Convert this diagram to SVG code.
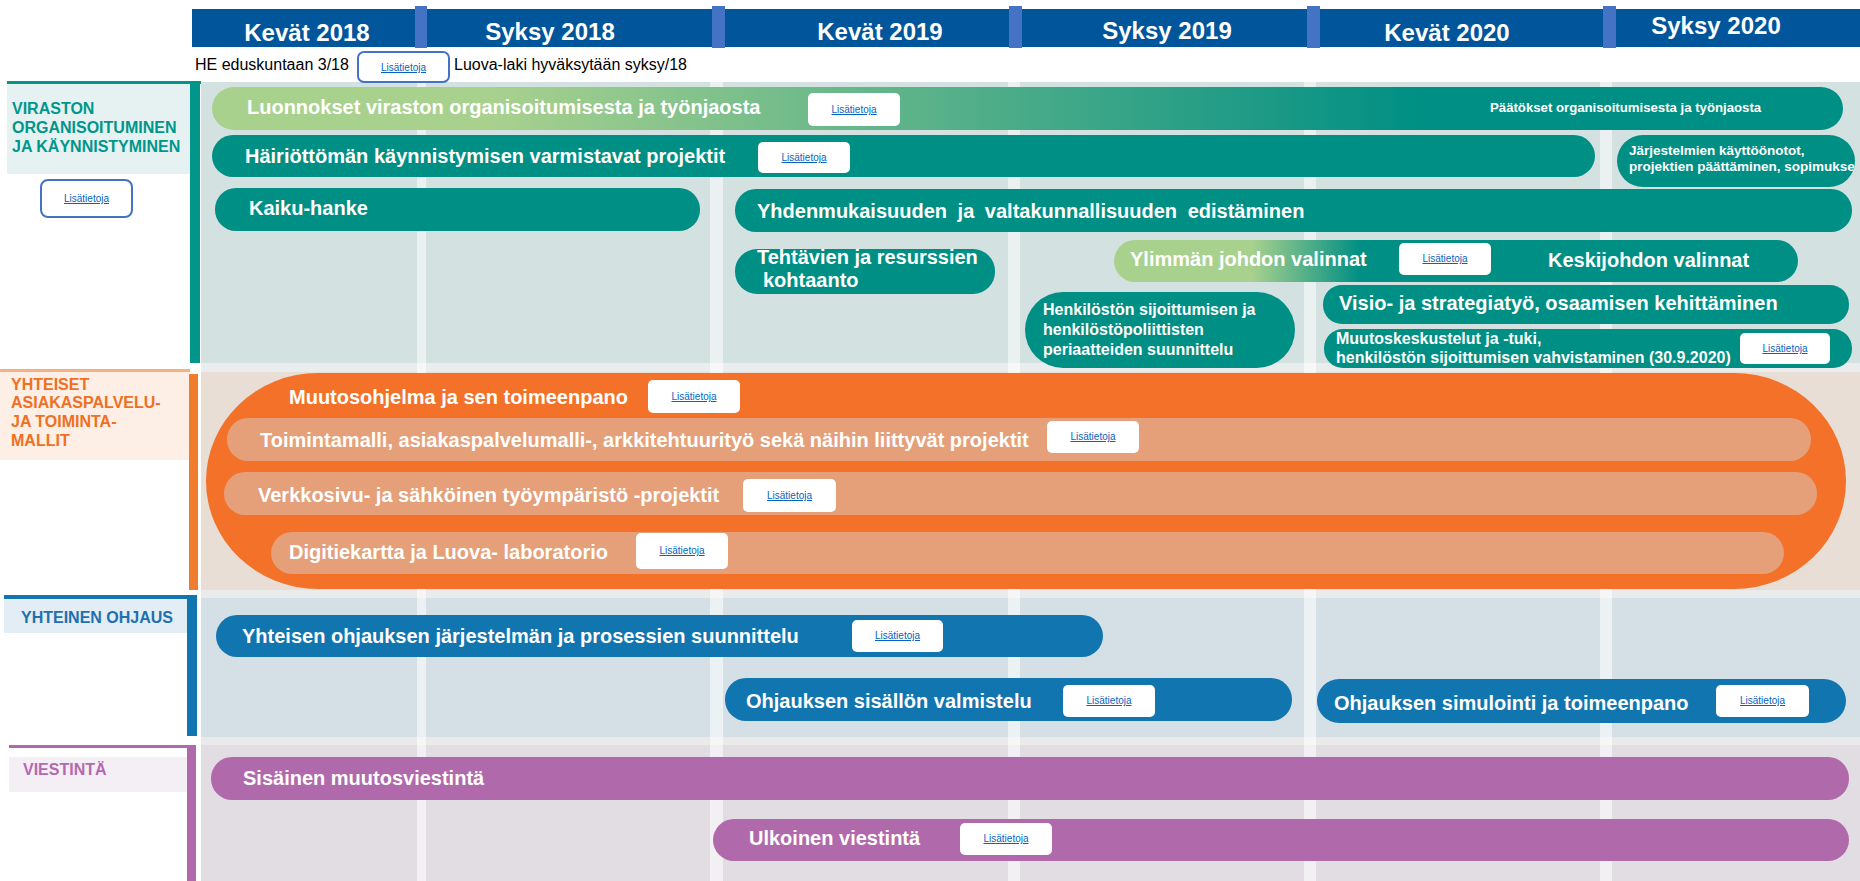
<svg xmlns="http://www.w3.org/2000/svg" width="1860" height="881" viewBox="0 0 1860 881">
<defs>
<style>
.hdr{font-family:"Liberation Sans",Arial,sans-serif;font-weight:bold;font-size:24px;fill:#fff;text-anchor:middle}
.t{font-family:"Liberation Sans",Arial,sans-serif;font-weight:bold;font-size:20px;fill:#fff}
.s{font-family:"Liberation Sans",Arial,sans-serif;font-weight:bold;fill:#fff}
.lbl{font-family:"Liberation Sans",Arial,sans-serif;font-weight:bold;font-size:16px}
.note{font-family:"Liberation Sans",Arial,sans-serif;font-size:16px;fill:#000}
.lb{fill:#fff}
.lbb{fill:#fff;stroke:#4472C4;stroke-width:2}
.lk{font-family:"Liberation Sans",Arial,sans-serif;font-size:10px;fill:#0563C1;text-decoration:underline;text-anchor:middle}
.teal{fill:#008F84}
.blue{fill:#1175B0}
.purple{fill:#B06AAC}
.salmon{fill:#E59F79}
.stripe{fill:#fff;opacity:.55}
.sep{fill:#4472C4}
</style>
<linearGradient id="g1" x1="212" y1="0" x2="1843" y2="0" gradientUnits="userSpaceOnUse">
<stop offset="0" stop-color="#A9D18E"/>
<stop offset="0.17" stop-color="#A9D18E"/>
<stop offset="0.74" stop-color="#008F84"/>
<stop offset="1" stop-color="#008F84"/>
</linearGradient>
<linearGradient id="g2" x1="1114" y1="0" x2="1797" y2="0" gradientUnits="userSpaceOnUse">
<stop offset="0" stop-color="#A9D18E"/>
<stop offset="0.2" stop-color="#A9D18E"/>
<stop offset="0.36" stop-color="#008F84"/>
<stop offset="1" stop-color="#008F84"/>
</linearGradient>
<clipPath id="cj"><rect x="1617" y="135" width="238" height="52" rx="26"/></clipPath>
</defs>

<g id="grid">
<rect x="201" y="82" width="1659" height="281" fill="#D3E1E1"/>
<rect x="201" y="363" width="1659" height="9" fill="#EAEDED"/>
<rect x="201" y="372" width="1659" height="218" fill="#E8DED6"/>
<rect x="201" y="590" width="1659" height="8" fill="#EAEBEB"/>
<rect x="201" y="598" width="1659" height="139" fill="#D4E0E6"/>
<rect x="201" y="737" width="1659" height="8" fill="#EAEAEA"/>
<rect x="201" y="745" width="1659" height="136" fill="#E2DDE3"/>
<rect class="stripe" x="417" y="82" width="9" height="799"/>
<rect class="stripe" x="710" y="82" width="13" height="799"/>
<rect class="stripe" x="1008" y="82" width="12" height="799"/>
<rect class="stripe" x="1304" y="82" width="12" height="799"/>
<rect class="stripe" x="1600" y="82" width="12" height="799"/>
</g>

<g id="header">
<rect x="192" y="9" width="1668" height="38" fill="#00559B"/>
<rect class="sep" x="415" y="6" width="12" height="42"/>
<rect class="sep" x="712" y="6" width="13" height="42"/>
<rect class="sep" x="1009" y="6" width="13" height="42"/>
<rect class="sep" x="1307" y="6" width="13" height="42"/>
<rect class="sep" x="1603" y="6" width="13" height="42"/>
<text class="hdr" x="307" y="41">Kevät 2018</text>
<text class="hdr" x="550" y="40">Syksy 2018</text>
<text class="hdr" x="880" y="40">Kevät 2019</text>
<text class="hdr" x="1167" y="39">Syksy 2019</text>
<text class="hdr" x="1447" y="41">Kevät 2020</text>
<text class="hdr" x="1716" y="34">Syksy 2020</text>
</g>

<g id="milestones">
<text class="note" x="195" y="70">HE eduskuntaan 3/18</text>
<rect class="lbb" x="358" y="52" width="91" height="30" rx="6"/>
<text class="lk" x="403.5" y="71">Lisätietoja</text>
<text class="note" x="454" y="70">Luova-laki hyväksytään syksy/18</text>
</g>

<g id="lane-viraston">
<rect x="7" y="84" width="183" height="90" fill="#E5F2F1"/>
<rect x="7" y="81" width="194" height="3" fill="#00968C"/>
<rect x="190" y="81" width="10" height="282" fill="#00968C"/>
<text class="lbl" fill="#00968C"><tspan x="12" y="114">VIRASTON</tspan><tspan x="12" y="133">ORGANISOITUMINEN</tspan><tspan x="12" y="152">JA KÄYNNISTYMINEN</tspan></text>
<rect class="lbb" x="41" y="180" width="91" height="37" rx="7"/>
<text class="lk" x="86.5" y="202">Lisätietoja</text>
</g>

<g id="lane-yhteiset">
<rect x="0" y="372" width="190" height="88" fill="#FDEEE6"/>
<rect x="0" y="369" width="190" height="3" fill="#F4B183"/>
<rect x="189" y="374" width="9" height="216" fill="#F07D2D"/>
<text class="lbl" fill="#F07022"><tspan x="11" y="390">YHTEISET</tspan><tspan x="11" y="408">ASIAKASPALVELU-</tspan><tspan x="11" y="427">JA TOIMINTA-</tspan><tspan x="11" y="446">MALLIT</tspan></text>
</g>

<g id="lane-ohjaus">
<rect x="4" y="598" width="183" height="35" fill="#E3EDF5"/>
<rect x="4" y="595" width="193" height="4" fill="#1175B0"/>
<rect x="187" y="595" width="10" height="141" fill="#1175B0"/>
<text class="lbl" fill="#1F70AE" x="21" y="623" font-size="15">YHTEINEN OHJAUS</text>
</g>

<g id="lane-viestinta">
<rect x="9" y="757" width="178" height="35" fill="#F4EEF5"/>
<rect x="9" y="745" width="187" height="3" fill="#B06AAC"/>
<rect x="187" y="745" width="9" height="136" fill="#B06AAC"/>
<text class="lbl" fill="#B569B0" x="23" y="775" font-size="15">VIESTINTÄ</text>
</g>

<g id="luonnokset">
<rect x="212" y="87" width="1631" height="43" rx="22" fill="url(#g1)"/>
<text class="t" x="247" y="114">Luonnokset viraston organisoitumisesta ja työnjaosta</text>
<rect class="lb" x="808" y="93" width="92" height="33" rx="5"/>
<text class="lk" x="854" y="113">Lisätietoja</text>
<text class="s" x="1490" y="112" font-size="13.2">Päätökset organisoitumisesta ja työnjaosta</text>
</g>

<g id="hairiottoman">
<rect class="teal" x="212" y="135" width="1383" height="42" rx="21"/>
<text class="t" x="245" y="163">Häiriöttömän käynnistymisen varmistavat projektit</text>
<rect class="lb" x="758" y="142" width="92" height="31" rx="5"/>
<text class="lk" x="804" y="161">Lisätietoja</text>
</g>

<g id="jarjestelmien">
<rect class="teal" x="1617" y="135" width="238" height="52" rx="26"/>
<text class="s" font-size="13.5" clip-path="url(#cj)"><tspan x="1629" y="155">Järjestelmien  käyttöönotot,</tspan><tspan x="1629" y="171">projektien päättäminen, sopimukset</tspan></text>
</g>

<g id="kaiku">
<rect class="teal" x="215" y="188" width="485" height="43" rx="21"/>
<text class="t" x="249" y="215">Kaiku-hanke</text>
</g>

<g id="yhdenmukaisuus">
<rect class="teal" x="735" y="189" width="1117" height="43" rx="21"/>
<text class="t" x="757" y="218" font-size="20.5" word-spacing="5">Yhdenmukaisuuden ja valtakunnallisuuden edistäminen</text>
</g>

<g id="tehtavien">
<rect class="teal" x="735" y="249" width="260" height="45" rx="22"/>
<text class="t" font-size="18.3"><tspan x="757" y="264">Tehtävien ja resurssien</tspan><tspan x="763" y="287">kohtaanto</tspan></text>
</g>

<g id="johdon-valinnat">
<rect x="1114" y="240" width="684" height="42" rx="21" fill="url(#g2)"/>
<text class="t" x="1130" y="266">Ylimmän johdon valinnat</text>
<rect class="lb" x="1399" y="243" width="92" height="32" rx="5"/>
<text class="lk" x="1445" y="262">Lisätietoja</text>
<text class="t" x="1548" y="267">Keskijohdon valinnat</text>
</g>

<g id="henkiloston">
<rect class="teal" x="1025" y="292" width="270" height="76" rx="38"/>
<text class="s" font-size="16"><tspan x="1043" y="315">Henkilöstön sijoittumisen ja</tspan><tspan x="1043" y="335">henkilöstöpoliittisten</tspan><tspan x="1043" y="355">periaatteiden suunnittelu</tspan></text>
</g>

<g id="visio">
<rect class="teal" x="1323" y="285" width="526" height="39" rx="19"/>
<text class="t" x="1339" y="310">Visio- ja strategiatyö, osaamisen kehittäminen</text>
</g>

<g id="muutoskeskustelut">
<rect class="teal" x="1324" y="329" width="528" height="39" rx="19"/>
<text class="s" font-size="16"><tspan x="1336" y="344">Muutoskeskustelut ja -tuki,</tspan><tspan x="1336" y="363">henkilöstön sijoittumisen vahvistaminen (30.9.2020)</tspan></text>
<rect class="lb" x="1740" y="333" width="90" height="31" rx="5"/>
<text class="lk" x="1785" y="352">Lisätietoja</text>
</g>

<g id="muutosohjelma">
<rect x="206" y="373" width="1640" height="216" rx="112" ry="108" fill="#F37129"/>
<text class="t" x="289" y="404">Muutosohjelma ja sen toimeenpano</text>
<rect class="lb" x="648" y="380" width="92" height="33" rx="5"/>
<text class="lk" x="694" y="400">Lisätietoja</text>
</g>

<g id="toimintamalli">
<rect class="salmon" x="227" y="418" width="1584" height="43" rx="21"/>
<text class="t" x="260" y="447">Toimintamalli, asiakaspalvelumalli-, arkkitehtuurityö sekä näihin liittyvät projektit</text>
<rect class="lb" x="1047" y="421" width="92" height="32" rx="5"/>
<text class="lk" x="1093" y="440">Lisätietoja</text>
</g>

<g id="verkkosivu">
<rect class="salmon" x="224" y="472" width="1593" height="43" rx="21"/>
<text class="t" x="258" y="502">Verkkosivu- ja sähköinen työympäristö -projektit</text>
<rect class="lb" x="743" y="479" width="93" height="33" rx="5"/>
<text class="lk" x="789.5" y="499">Lisätietoja</text>
</g>

<g id="digitiekartta">
<rect class="salmon" x="271" y="532" width="1513" height="42" rx="21"/>
<text class="t" x="289" y="559">Digitiekartta ja Luova- laboratorio</text>
<rect class="lb" x="636" y="533" width="92" height="36" rx="5"/>
<text class="lk" x="682" y="554">Lisätietoja</text>
</g>

<g id="yhteisen-ohjauksen">
<rect class="blue" x="216" y="615" width="887" height="42" rx="21"/>
<text class="t" x="242" y="643">Yhteisen ohjauksen järjestelmän ja prosessien suunnittelu</text>
<rect class="lb" x="852" y="620" width="91" height="32" rx="5"/>
<text class="lk" x="897.5" y="639">Lisätietoja</text>
</g>

<g id="ohjauksen-sisallon">
<rect class="blue" x="725" y="678" width="567" height="43" rx="21"/>
<text class="t" x="746" y="708">Ohjauksen sisällön valmistelu</text>
<rect class="lb" x="1063" y="685" width="92" height="32" rx="5"/>
<text class="lk" x="1109" y="704">Lisätietoja</text>
</g>

<g id="ohjauksen-simulointi">
<rect class="blue" x="1317" y="679" width="529" height="44" rx="22"/>
<text class="t" x="1334" y="710">Ohjauksen simulointi ja toimeenpano</text>
<rect class="lb" x="1716" y="685" width="93" height="32" rx="5"/>
<text class="lk" x="1762.5" y="704">Lisätietoja</text>
</g>

<g id="sisainen">
<rect class="purple" x="211" y="757" width="1638" height="43" rx="21"/>
<text class="t" x="243" y="785">Sisäinen muutosviestintä</text>
</g>

<g id="ulkoinen">
<rect class="purple" x="713" y="819" width="1136" height="42" rx="21"/>
<text class="t" x="749" y="845">Ulkoinen viestintä</text>
<rect class="lb" x="960" y="823" width="92" height="32" rx="5"/>
<text class="lk" x="1006" y="842">Lisätietoja</text>
</g>
</svg>
